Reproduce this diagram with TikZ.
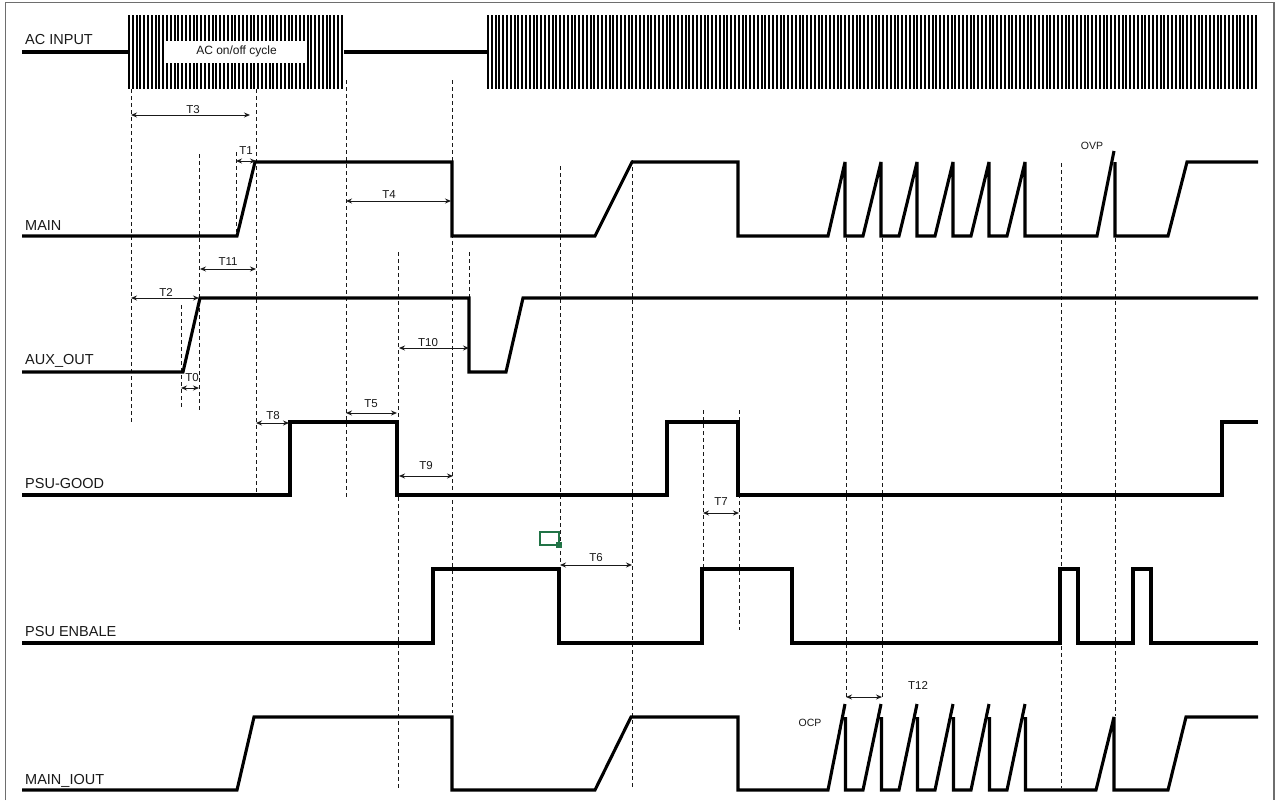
\documentclass[tikz,border=0pt]{standalone}
\usepackage{fontspec}
\setmainfont{Liberation Sans}
\usetikzlibrary{arrows.meta}
\definecolor{xlgreen}{RGB}{33,115,70}
\definecolor{frame}{RGB}{110,110,110}
\definecolor{ink}{RGB}{25,25,25}
\tikzset{
  sig/.style={line width=3.1pt, line join=miter, miter limit=1.5, black},
  guide/.style={line width=0.9pt, ink, dash pattern=on 4pt off 3pt},
  dim/.style={line width=0.9pt, ink, {Stealth[length=6pt,width=5pt]}-{Stealth[length=6pt,width=5pt]}},
  siglabel/.style={anchor=base west, inner sep=0pt, font=\fontsize{14.5}{16}\selectfont, ink},
  tlabel/.style={anchor=base, inner sep=0pt, font=\fontsize{11.5}{13}\selectfont, ink},
  flag/.style={anchor=base, inner sep=0pt, font=\fontsize{10.5}{12}\selectfont, ink},
  hatchbar/.style={fill=black}
}
\begin{document}
\begin{tikzpicture}[x=1pt,y=-1pt]
\useasboundingbox (0,0) rectangle (1276,800);
\fill[white] (0,0) rectangle (1276,800);
% frame
\draw[frame, line width=1.3pt] (5.5,800) -- (5.5,2.5) -- (1274,2.5) -- (1274,800);

% ---------- AC INPUT ----------
\foreach \i in {0,...,56} \fill[hatchbar] (128+\i*3.8,15) rectangle ++(2.0,74);
\foreach \i in {0,...,202} \fill[hatchbar] (487+\i*3.8,15) rectangle ++(2.0,74);
\fill[white] (166,41) rectangle (307,63);
\node[anchor=base, inner sep=0pt, font=\fontsize{12}{14}\selectfont, ink] (accycle) at (236.5,55) {AC on/off cycle};
\draw[sig] (22,52) -- (128,52);
\draw[sig] (344,52) -- (487,52);

% ---------- signal labels ----------
\node[siglabel] (lac)   at (25,45)  {AC INPUT};
\node[siglabel] (lmain) at (25,230) {MAIN};
\node[siglabel] (laux)  at (25,364) {AUX\_OUT};
\node[siglabel] (lpg)   at (25,488) {PSU-GOOD};
\node[siglabel] (len)   at (25,636) {PSU ENBALE};
\node[siglabel] (liout) at (25,784) {MAIN\_IOUT};

% ---------- dashed guides ----------
\draw[guide] (131,89) -- (131,423);
\draw[guide] (181,305) -- (181,408);
\draw[guide] (199.5,154) -- (199.5,410);
\draw[guide] (236,152) -- (236,232);
\draw[guide] (256,89) -- (256,495);
\draw[guide] (346,80) -- (346,497);
\draw[guide] (452.7,80) -- (452.7,713);
\draw[guide] (469,252) -- (469,298);
\draw[guide] (398,252) -- (398,788);
\draw[guide] (560,166) -- (560,563);
\draw[guide] (632,160) -- (632,787);
\draw[guide] (703,410) -- (703,569);
\draw[guide] (739,410) -- (739,630);
\draw[guide] (846,238) -- (846,697);
\draw[guide] (882,238) -- (882,697);
\draw[guide] (1061,163) -- (1061,788);
\draw[guide] (1115,238) -- (1115,716);

% ---------- MAIN ----------
\draw[sig] (22,236) -- (237,236) -- (255,162) -- (452,162) -- (452,236) -- (595,236) -- (632,162) -- (738,162) -- (738,236)
  -- (828,236) -- (845,162) -- (845,236) -- (863,236) -- (881,162) -- (881,236) -- (899,236) -- (917,162) -- (917,236)
  -- (935,236) -- (953,162) -- (953,236) -- (971,236) -- (989,162) -- (989,236) -- (1007,236) -- (1025,162) -- (1025,236)
  -- (1097,236) -- (1114,151);
\draw[sig] (1115,162) -- (1115,236) -- (1168,236) -- (1187,162) -- (1258,162);
\node[flag] (ovp) at (1092,149) {OVP};

% ---------- AUX_OUT ----------
\draw[sig] (22,372) -- (183,372) -- (200,298) -- (469,298) -- (469,372) -- (506,372) -- (523,298) -- (1258,298);

% ---------- PSU-GOOD ----------
\draw[sig] (22,495) -- (290,495) -- (290,422) -- (397,422) -- (397,495) -- (667,495) -- (667,422) -- (738,422) -- (738,495)
  -- (1222,495) -- (1222,422) -- (1258,422);

% ---------- PSU ENBALE ----------
\draw[sig] (22,643) -- (433,643) -- (433,569) -- (559,569) -- (559,643) -- (702,643) -- (702,569) -- (792,569) -- (792,643)
  -- (1060,643) -- (1060,569) -- (1078,569) -- (1078,643) -- (1133,643) -- (1133,569) -- (1151,569) -- (1151,643) -- (1258,643);

% ---------- MAIN_IOUT ----------
\draw[sig] (22,790) -- (237,790) -- (254,717) -- (452,717) -- (452,790) -- (595,790) -- (631,717) -- (738,717) -- (738,790)
  -- (828,790) -- (845,704)
  (845.5,717) -- (845.5,790) -- (863,790) -- (881,704)
  (881.5,717) -- (881.5,790) -- (899,790) -- (917,704)
  (917.5,717) -- (917.5,790) -- (935,790) -- (953,704)
  (953.5,717) -- (953.5,790) -- (971,790) -- (989,704)
  (989.5,717) -- (989.5,790) -- (1007,790) -- (1025,704)
  (1025.5,717) -- (1025.5,790) -- (1096,790) -- (1114,717) -- (1114,790) -- (1168,790) -- (1186,717) -- (1258,717);
\node[flag] (ocp) at (810,726.5) {OCP};

% ---------- timing dimensions ----------
\draw[dim] (131,115) -- (250,115);  \node[tlabel] (t3)  at (193,113)   {T3};
\draw[dim] (236,161) -- (256,161);  \node[tlabel] (t1)  at (246,154)   {T1};
\draw[dim] (346,201) -- (451,201);  \node[tlabel] (t4)  at (389,198)   {T4};
\draw[dim] (200,269) -- (256,269);  \node[tlabel] (t11) at (228,265)   {T11};
\draw[dim] (131,298) -- (199,298);  \node[tlabel] (t2)  at (166,296)   {T2};
\draw[dim] (181,388) -- (199,388);  \node[tlabel] (t0)  at (192,381.5) {T0};
\draw[dim] (256,423) -- (289,423);  \node[tlabel] (t8)  at (273,419)   {T8};
\draw[dim] (346,413) -- (397,413);  \node[tlabel] (t5)  at (371,407.5) {T5};
\draw[dim] (399,348) -- (469,348);  \node[tlabel] (t10) at (428,346)   {T10};
\draw[dim] (399,476) -- (453,476);  \node[tlabel] (t9)  at (426,469)   {T9};
\draw[dim] (703,513) -- (739,513);  \node[tlabel] (t7)  at (721,505)   {T7};
\draw[dim] (560,565) -- (632,565);  \node[tlabel] (t6)  at (596,561)   {T6};
\draw[dim] (846,697) -- (882,697);  \node[tlabel] (t12) at (918,689)   {T12};

% ---------- selection marker ----------
\draw[xlgreen, line width=1.3pt] (540,532) rectangle (559,545);
\fill[xlgreen] (556,542) rectangle (561.5,547.5);
\end{tikzpicture}
\end{document}
